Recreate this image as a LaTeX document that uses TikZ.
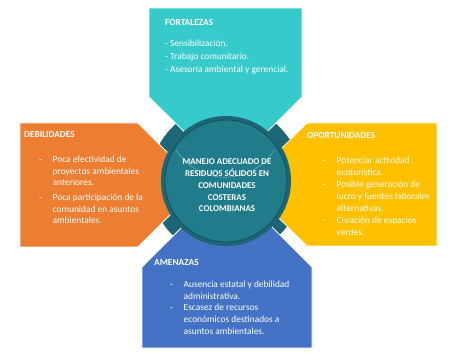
\documentclass[tikz,border=0pt]{standalone}
\usepackage{fontspec}
\setmainfont{Carlito}
\usepackage{xcolor}
\usepackage{tikz}
\usetikzlibrary{positioning}
\definecolor{FortCyan}{HTML}{36CACA}
\definecolor{DebOrange}{HTML}{ED7D31}
\definecolor{OpoYellow}{HTML}{FFC000}
\definecolor{AmeBlue}{HTML}{4472C4}
\definecolor{RingTeal}{HTML}{1C6676}
\definecolor{CoreTeal}{HTML}{207B8B}
\definecolor{EdgeTeal}{HTML}{15505C}
\newcommand{\guion}{\makebox[13.5pt][l]{-}}
\newcommand{\sangria}{\hspace*{13.5pt}}

\begin{document}
\begin{tikzpicture}[x=1pt,y=-1pt,
  titulo/.style={text=white,font=\fontsize{9.3}{11}\selectfont\bfseries,inner sep=0pt,anchor=north west},
  lista/.style={text=white,font=\fontsize{9.4}{11.6}\selectfont,inner sep=0pt,align=left},
  pieza/.style={draw=white,line width=0.8pt,line join=miter}]
\useasboundingbox[fill=white] (0,0) rectangle (474,363);
% fondo oscuro tras el circulo
\fill[RingTeal] (226,181) circle[radius=76];
% las cuatro piezas
\filldraw[pieza,fill=FortCyan] (149,8) -- (302,8) -- (302,97) -- (226,173) -- (149,97) -- cycle;
\filldraw[pieza,fill=DebOrange] (20,123) -- (138,123) -- (200,185) -- (138,247) -- (20,247) -- cycle;
\filldraw[pieza,fill=OpoYellow] (307,123) -- (437,123) -- (437,246) -- (307,246) -- (245,184.5) -- cycle;
\filldraw[pieza,fill=AmeBlue] (142,267) -- (227,182) -- (312,267) -- (312,348) -- (142,348) -- cycle;
% circulo central
\fill[RingTeal] (226,181) circle[radius=65];
\node[circle,fill=CoreTeal,draw=EdgeTeal,line width=0.8pt,minimum size=122pt,inner sep=0pt] (c) at (226,181) {};
\draw[white,opacity=0.35,line width=0.6pt] (176,150) arc[start angle=148,end angle=32,radius=58];
\node[text=white,font=\fontsize{8.9}{11.8}\selectfont\bfseries,align=center] (tema) at (227,185.5)
{MANEJO ADECUADO DE\\RESIDUOS SÓLIDOS EN\\COMUNIDADES\\COSTERAS\\COLOMBIANAS};

\node[titulo] (fort) at (165,19.5) {FORTALEZAS};
\node[lista,font=\fontsize{9.4}{12.8}\selectfont,below right=14pt and 0pt of fort.south west] (fortl)
{- Sensibilización.\\- Trabajo comunitario.\\- Asesoría ambiental y gerencial.};

\node[titulo] (deb) at (24,131.5) {DEBILIDADES};
\node[lista,below right=18pt and 15pt of deb.south west] (debl)
{\guion Poca efectividad de\\\sangria proyectos ambientales\\\sangria anteriores.\\[3pt]
 \guion Poca participación de la\\\sangria comunidad en asuntos\\\sangria ambientales.};

\node[titulo] (opo) at (307,132.5) {OPORTUNIDADES};
\node[lista,below right=18pt and 16pt of opo.south west] (opol)
{\guion Potenciar actividad\\\sangria ecoturística.\\[1pt]
 \guion Posible generación de\\\sangria lucro y fuentes laborales\\\sangria alternativas.\\[1pt]
 \guion Creación de espacios\\\sangria verdes.};

\node[titulo] (ame) at (154,259.5) {AMENAZAS};
\node[lista,below right=15pt and 16pt of ame.south west] (amel)
{\guion Ausencia estatal y debilidad\\\sangria administrativa.\\
 \guion Escasez de recursos\\\sangria económicos destinados a\\\sangria asuntos ambientales.};
\end{tikzpicture}
\end{document}
